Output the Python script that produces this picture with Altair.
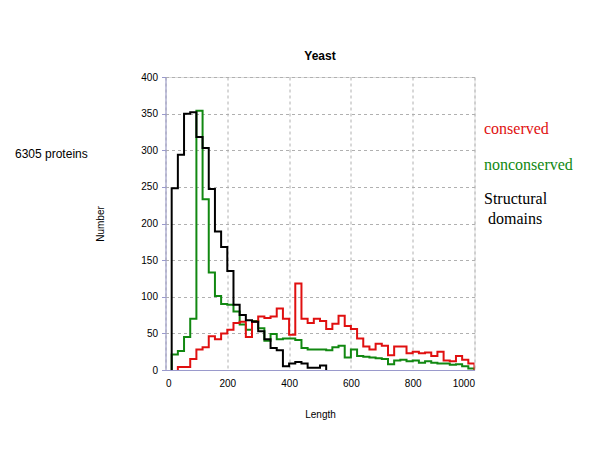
import altair as alt
import pandas as pd

# bin width 20 (protein length)
bin_width = 20

conserved_start = 40
conserved = [4, 4, 15, 28, 31, 46, 42, 50, 55, 64, 66, 45, 66, 73, 71, 73, 84, 70, 48, 118,
             70, 64, 70, 67, 56, 63, 74, 60, 56, 43, 32, 28, 36, 33, 20, 32, 32, 23, 25, 23,
             24, 19, 25, 13, 12, 19, 14, 9]

nonconserved_start = 20
nonconserved = [21, 26, 45, 70, 354, 233, 133, 101, 90, 89, 80, 62, 55, 67, 57, 40, 49, 42, 43, 43,
                41, 30, 28, 28, 28, 27, 31, 33, 17, 28, 19, 18, 17, 16, 15, 8, 13, 14, 12, 13,
                10, 12, 10, 9, 9, 7, 8, 5, 2]

structural_start = 20
structural = [248, 294, 350, 352, 318, 303, 247, 189, 168, 135, 89, 75, 68, 66, 53, 42, 30, 27,
              5, 9, 11, 9, 3, 3, 6]

series_names = ["conserved", "nonconserved", "Structural domains"]
series_colors = ["#e01010", "#118811", "#000000"]


def step_frame(start, values, name):
    xs = [start]
    ys = [0]
    for i, v in enumerate(values):
        xs.append(start + i * bin_width)
        ys.append(v)
    end = start + len(values) * bin_width
    xs += [end, end]
    ys += [values[-1], 0]
    return pd.DataFrame({"Length": xs, "Number": ys, "series": name, "order": range(len(xs))})


frames = {
    "conserved": step_frame(conserved_start, conserved, "conserved"),
    "nonconserved": step_frame(nonconserved_start, nonconserved, "nonconserved"),
    "Structural domains": step_frame(structural_start, structural, "Structural domains"),
}

grid_col = "#b0b0b0"
axis_col = "#9a9acc"

xscale = alt.Scale(domain=[0, 1000], nice=False)
yscale = alt.Scale(domain=[0, 400], nice=False)

xaxis = alt.Axis(values=[0, 200, 400, 600, 800, 1000], format="d", title="Length", grid=True,
                 gridColor=grid_col, gridDash=[3, 3], gridWidth=1,
                 domainColor=axis_col, tickColor=axis_col, tickSize=0,
                 labelFont="Liberation Sans", labelFontSize=10, labelColor="#000000",
                 labelPadding=8, titleFont="Liberation Sans", titleFontSize=10,
                 titleFontWeight="normal", titleColor="#000000", titleX=154.5, titleY=44,
                 titleBaseline="middle")
yaxis = alt.Axis(values=[0, 50, 100, 150, 200, 250, 300, 350, 400], title="Number", grid=True,
                 gridColor=grid_col, gridDash=[3, 3], gridWidth=1,
                 domainColor=axis_col, tickColor=axis_col, tickSize=4,
                 labelFont="Liberation Sans", labelFontSize=10, labelColor="#000000",
                 labelPadding=4, titleFont="Liberation Sans", titleFontSize=10,
                 titleFontWeight="normal", titleColor="#000000", titleX=-65, titleY=146.5,
                 titleAngle=-90, titleAlign="center", titleBaseline="middle")

layers = []
for name, col in zip(series_names, series_colors):
    base = alt.Chart(frames[name]).mark_line(interpolate="step-after", color=col,
                                               strokeWidth=2, clip=True)
    enc = base.encode(
        x=alt.X("Length:Q", scale=xscale, axis=xaxis),
        y=alt.Y("Number:Q", scale=yscale, axis=yaxis),
        order="order:Q",
    )
    layers.append(enc)

# draw order: green, red, black
ordered = [layers[1], layers[0], layers[2]]

label_df = pd.DataFrame({"dummy": [0]})


def note(text, x, y, color, font, size, align="left"):
    return alt.Chart(label_df).mark_text(text=text, color=color, font=font, fontSize=size,
                                         align=align, baseline="middle").encode(
        x=alt.value(x), y=alt.value(y))


notes = [
    note("6305 proteins", -150.5, 77, "#000000", "Liberation Sans", 12),
    note("conserved", 318.5, 52, series_colors[0], "Liberation Serif", 16),
    note("nonconserved", 318.5, 88, series_colors[1], "Liberation Serif", 16),
    note("Structural", 318.5, 122, "#000000", "Liberation Serif", 16),
    note("domains", 322.5, 142, "#000000", "Liberation Serif", 16),
]

chart = alt.layer(*ordered, *notes).properties(
    width=309, height=293,
    title=alt.Title("Yeast", font="Liberation Sans", fontSize=12, fontWeight="bold",
                    color="#000000", offset=9),
    autosize=alt.AutoSizeParams(type="none"),
    padding={"left": 157.5, "top": 69, "right": 117.5, "bottom": 72},
).configure_view(stroke=axis_col, strokeWidth=1).configure(background="#ffffff")

chart.save("out.html", embed_options={"renderer": "svg", "actions": False})
